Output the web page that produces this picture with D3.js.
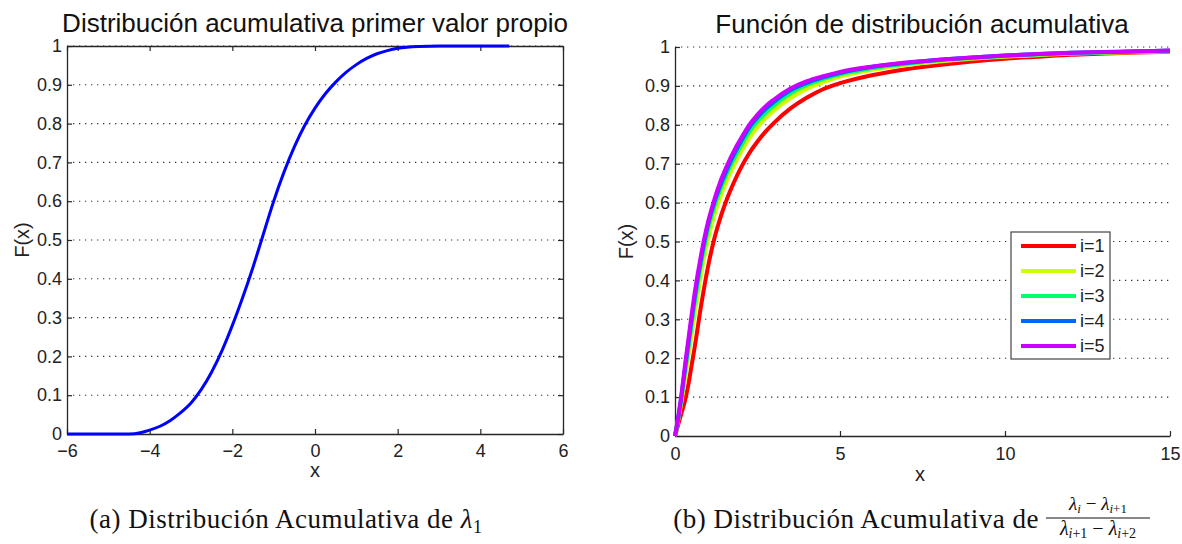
<!DOCTYPE html>
<html>
<head>
<meta charset="utf-8">
<script src="https://cdn.jsdelivr.net/npm/d3@7"></script>
<style>
  html, body { margin: 0; padding: 0; background: #fff; }
  svg { display: block; }
  .sans { font-family: "Liberation Sans", Arial, sans-serif; }
  .serif { font-family: "Liberation Serif", "DejaVu Serif", serif; }
</style>
</head>
<body>
<svg id="chart" width="1182" height="544"></svg>
<script>
// ---- Panel (a): empirical CDF of the first eigenvalue ----
const lambdaX = [-6, -4.5, -4.2, -4, -3.75, -3.5, -3.25, -3, -2.75, -2.5, -2.25, -2, -1.75, -1.5, -1.25, -1, -0.75, -0.5, -0.25, 0, 0.25, 0.5, 0.75, 1, 1.25, 1.5, 1.75, 2, 2.5, 3, 4.7];
const lambdaF = [0, 0, 0.004, 0.01, 0.02, 0.035, 0.055, 0.08, 0.115, 0.16, 0.215, 0.28, 0.352, 0.43, 0.515, 0.6, 0.675, 0.74, 0.795, 0.84, 0.877, 0.907, 0.932, 0.952, 0.968, 0.98, 0.988, 0.994, 0.999, 1, 1];

// ---- Panel (b): CDFs of the spacing ratios ----
const ratioX = [0, 0.1, 0.2, 0.3, 0.4, 0.5, 0.6, 0.8, 1.0, 1.2, 1.4, 1.6, 1.8, 2.0, 2.25, 2.5, 2.75, 3, 3.5, 4, 4.5, 5, 6, 7, 8, 9, 10, 11, 12, 13, 14, 15];
const ratioF1 = [0, 0.03, 0.06, 0.09, 0.13, 0.18, 0.23, 0.34, 0.435, 0.51, 0.568, 0.615, 0.655, 0.69, 0.727, 0.757, 0.783, 0.805, 0.842, 0.87, 0.892, 0.907, 0.928, 0.943, 0.954, 0.963, 0.97, 0.975, 0.98, 0.983, 0.986, 0.988];
const ratioF2 = [0, 0.042, 0.09, 0.145, 0.2, 0.26, 0.315, 0.422, 0.505, 0.57, 0.62, 0.662, 0.698, 0.73, 0.766, 0.794, 0.817, 0.837, 0.869, 0.893, 0.91, 0.924, 0.942, 0.954, 0.963, 0.97, 0.975, 0.979, 0.983, 0.985, 0.987, 0.989];
const ratioF3 = [0, 0.046, 0.1, 0.162, 0.222, 0.285, 0.343, 0.446, 0.53, 0.592, 0.64, 0.68, 0.715, 0.746, 0.782, 0.809, 0.831, 0.85, 0.881, 0.903, 0.918, 0.93, 0.946, 0.957, 0.966, 0.972, 0.977, 0.981, 0.984, 0.986, 0.988, 0.99];
const ratioF4 = [0, 0.048, 0.105, 0.172, 0.235, 0.298, 0.358, 0.46, 0.542, 0.603, 0.65, 0.69, 0.726, 0.757, 0.793, 0.819, 0.841, 0.859, 0.889, 0.908, 0.922, 0.933, 0.949, 0.959, 0.967, 0.973, 0.978, 0.982, 0.985, 0.987, 0.989, 0.991];
const ratioF5 = [0, 0.05, 0.11, 0.18, 0.245, 0.31, 0.37, 0.47, 0.55, 0.61, 0.66, 0.7, 0.735, 0.765, 0.8, 0.826, 0.848, 0.865, 0.893, 0.912, 0.925, 0.936, 0.95, 0.96, 0.967, 0.973, 0.978, 0.982, 0.985, 0.987, 0.989, 0.991];

const seriesNames = ["i=1", "i=2", "i=3", "i=4", "i=5"];
const seriesColors = ["#ff0000", "#ccff00", "#00ff66", "#0066ff", "#cc00ff"];
const yTicks = [0, 0.1, 0.2, 0.3, 0.4, 0.5, 0.6, 0.7, 0.8, 0.9, 1];
const xTicksA = [-6, -4, -2, 0, 2, 4, 6];
const xTicksB = [0, 5, 10, 15];

const svg = d3.select("#chart");
const axisColor = "#262626";
const fmt = d3.format("~g");

function styleAxis(g) {
  g.selectAll("path.domain").attr("stroke", axisColor).attr("stroke-width", 1.3);
  g.selectAll(".tick line").attr("stroke", axisColor).attr("stroke-width", 1.2);
  g.selectAll(".tick text")
    .attr("fill", "#222")
    .style("font-family", "'Liberation Sans', Arial, sans-serif")
    .style("font-size", "18px");
}

function drawGrid(g, x, y, x0, x1) {
  g.append("g").selectAll("line").data(yTicks.filter(d => d > 0)).join("line")
    .attr("x1", x0).attr("x2", x1)
    .attr("y1", d => y(d)).attr("y2", d => y(d))
    .attr("stroke", "#333").attr("stroke-width", 1.1)
    .attr("stroke-dasharray", "1.3,4.7");
}

// ================= Panel (a) =================
{
  const x = d3.scaleLinear().domain([-6, 6]).range([67, 563]);
  const y = d3.scaleLinear().domain([0, 1]).range([434, 46]);
  const g = svg.append("g");

  drawGrid(g, x, y, x(-6), x(6));

  // box with inward ticks on all sides
  g.append("g").attr("transform", `translate(0,${y(0)})`)
    .call(d3.axisBottom(x).tickValues(xTicksA).tickFormat(fmt).tickSizeInner(-5).tickSizeOuter(0).tickPadding(10))
    .call(styleAxis);
  g.append("g").attr("transform", `translate(0,${y(1)})`)
    .call(d3.axisTop(x).tickValues(xTicksA).tickFormat("").tickSizeInner(-5).tickSizeOuter(0))
    .call(styleAxis);
  g.append("g").attr("transform", `translate(${x(-6)},0)`)
    .call(d3.axisLeft(y).tickValues(yTicks).tickFormat(fmt).tickSizeInner(-5).tickSizeOuter(0).tickPadding(5))
    .call(styleAxis);
  g.append("g").attr("transform", `translate(${x(6)},0)`)
    .call(d3.axisRight(y).tickValues(yTicks).tickFormat("").tickSizeInner(-5).tickSizeOuter(0))
    .call(styleAxis);

  const pts = lambdaX.map((v, i) => [v, lambdaF[i]]);
  g.append("path").datum(pts)
    .attr("fill", "none").attr("stroke", "#0000ff").attr("stroke-width", 3)
    .attr("stroke-linejoin", "round")
    .attr("d", d3.line().x(d => x(d[0])).y(d => y(d[1])).curve(d3.curveMonotoneX));

  g.append("text").attr("class", "sans").attr("x", 315).attr("y", 32)
    .attr("text-anchor", "middle").attr("font-size", 26).attr("fill", "#111")
    .text("Distribución acumulativa primer valor propio");
  g.append("text").attr("class", "sans").attr("x", 315).attr("y", 477)
    .attr("text-anchor", "middle").attr("font-size", 20).attr("fill", "#222").text("x");
  g.append("text").attr("class", "sans")
    .attr("transform", `translate(29,${y(0.5)}) rotate(-90)`)
    .attr("text-anchor", "middle").attr("font-size", 20).attr("fill", "#222").text("F(x)");

  // caption
  const cap = g.append("text").attr("class", "serif").attr("x", 286).attr("y", 528)
    .attr("text-anchor", "middle").attr("font-size", 27).attr("letter-spacing", 0.5).attr("fill", "#111");
  cap.append("tspan").text("(a) Distribución Acumulativa de ");
  cap.append("tspan").attr("font-style", "italic").text("λ");
  cap.append("tspan").attr("font-size", 18).attr("dy", 5).text("1");
}

// ================= Panel (b) =================
{
  const x = d3.scaleLinear().domain([0, 15]).range([675, 1170]);
  const y = d3.scaleLinear().domain([0, 1]).range([436, 47]);
  const g = svg.append("g");

  drawGrid(g, x, y, x(0), x(15));

  g.append("g").attr("transform", `translate(0,${y(0)})`)
    .call(d3.axisBottom(x).tickValues(xTicksB).tickFormat(fmt).tickSizeInner(-5).tickSizeOuter(0).tickPadding(11))
    .call(styleAxis);
  g.append("g").attr("transform", `translate(${x(0)},0)`)
    .call(d3.axisLeft(y).tickValues(yTicks).tickFormat(fmt).tickSizeInner(-5).tickSizeOuter(0).tickPadding(5))
    .call(styleAxis);

  const all = [ratioF1, ratioF2, ratioF3, ratioF4, ratioF5];
  const line = d3.line().x(d => x(d[0])).y(d => y(d[1])).curve(d3.curveMonotoneX);
  all.forEach((vals, k) => {
    g.append("path").datum(ratioX.map((v, i) => [v, vals[i]]))
      .attr("fill", "none").attr("stroke", seriesColors[k]).attr("stroke-width", 4)
      .attr("stroke-linejoin", "round")
      .attr("d", line);
  });

  // legend
  const lg = g.append("g");
  lg.append("rect").attr("x", 1011).attr("y", 232).attr("width", 99).attr("height", 127)
    .attr("fill", "#fff").attr("stroke", "#444").attr("stroke-width", 1.2);
  seriesNames.forEach((name, k) => {
    const yy = 246 + k * 25;
    lg.append("line").attr("x1", 1021).attr("x2", 1076).attr("y1", yy).attr("y2", yy)
      .attr("stroke", seriesColors[k]).attr("stroke-width", 4);
    lg.append("text").attr("class", "sans").attr("x", 1080).attr("y", yy + 6)
      .attr("font-size", 18).attr("fill", "#222").text(name);
  });

  g.append("text").attr("class", "sans").attr("x", 922).attr("y", 33)
    .attr("text-anchor", "middle").attr("font-size", 26).attr("fill", "#111")
    .text("Función de distribución acumulativa");
  g.append("text").attr("class", "sans").attr("x", 920).attr("y", 481)
    .attr("text-anchor", "middle").attr("font-size", 20).attr("fill", "#222").text("x");
  g.append("text").attr("class", "sans")
    .attr("transform", `translate(633,${y(0.5)}) rotate(-90)`)
    .attr("text-anchor", "middle").attr("font-size", 20).attr("fill", "#222").text("F(x)");

  // caption with a fraction
  g.append("text").attr("class", "serif").attr("x", 1039).attr("y", 528)
    .attr("text-anchor", "end").attr("font-size", 27).attr("letter-spacing", 0.5).attr("fill", "#111")
    .text("(b) Distribución Acumulativa de");
  const fx = 1098;
  const num = g.append("text").attr("class", "serif").attr("x", fx).attr("y", 510)
    .attr("text-anchor", "middle").attr("font-size", 19).attr("fill", "#111");
  num.append("tspan").attr("font-style", "italic").text("λ");
  num.append("tspan").attr("font-size", 13).attr("dy", 3).attr("font-style", "italic").text("i");
  num.append("tspan").attr("dy", -3).text(" − ");
  num.append("tspan").attr("font-style", "italic").text("λ");
  num.append("tspan").attr("font-size", 13).attr("dy", 3).attr("font-style", "italic").text("i");
  num.append("tspan").attr("font-size", 13).text("+1");
  g.append("line").attr("x1", 1046).attr("x2", 1150).attr("y1", 518).attr("y2", 518)
    .attr("stroke", "#111").attr("stroke-width", 1);
  const den = g.append("text").attr("class", "serif").attr("x", fx).attr("y", 535)
    .attr("text-anchor", "middle").attr("font-size", 20).attr("fill", "#111");
  den.append("tspan").attr("font-style", "italic").text("λ");
  den.append("tspan").attr("font-size", 14).attr("dy", 3).attr("font-style", "italic").text("i");
  den.append("tspan").attr("font-size", 14).text("+1");
  den.append("tspan").attr("dy", -3).text(" − ");
  den.append("tspan").attr("font-style", "italic").text("λ");
  den.append("tspan").attr("font-size", 14).attr("dy", 3).attr("font-style", "italic").text("i");
  den.append("tspan").attr("font-size", 14).text("+2");
}
</script>
</body>
</html>
